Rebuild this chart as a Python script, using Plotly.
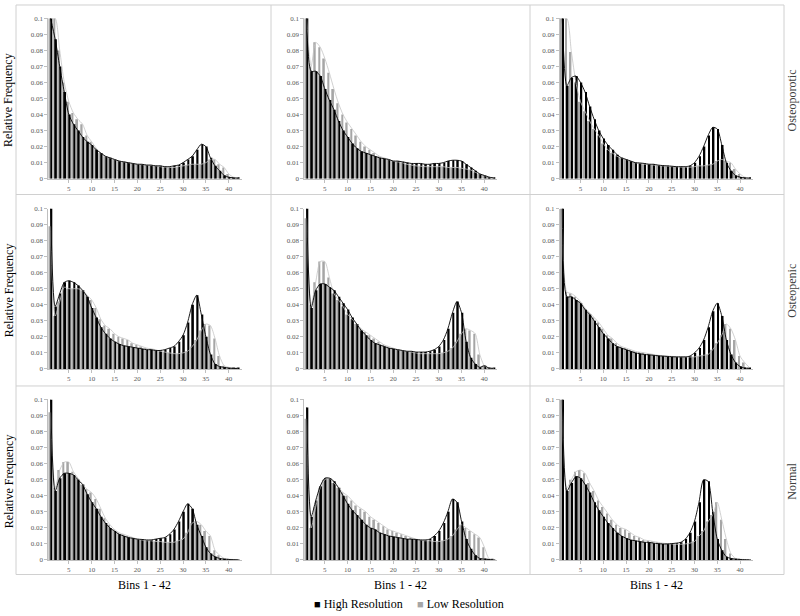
import plotly.graph_objects as go

bins = list(range(1, 43))
x_tick_vals = [5, 10, 15, 20, 25, 30, 35, 40]
row_labels = ["Osteoporotic", "Osteopenic", "Normal"]
x_title = "Bins 1 - 42"
y_title = "Relative Frequency"
series_names = ["High Resolution", "Low Resolution"]

# ---- Osteoporotic row ----
high_osteoporotic_1 = [0.1, 0.087, 0.070, 0.054, 0.040, 0.034, 0.030, 0.026, 0.023, 0.021,
                       0.018, 0.016, 0.014, 0.013, 0.012, 0.011, 0.0105, 0.010, 0.0095, 0.009,
                       0.009, 0.0085, 0.0085, 0.008, 0.008, 0.0075, 0.0075, 0.008, 0.0085, 0.010,
                       0.012, 0.014, 0.018, 0.0215, 0.020, 0.013, 0.008, 0.005, 0.002, 0.001,
                       0.0005, 0.0003]
low_osteoporotic_1 = [0.1, 0.1, 0.080, 0.060, 0.048, 0.041, 0.037, 0.034, 0.027, 0.023,
                      0.019, 0.016, 0.014, 0.013, 0.012, 0.011, 0.0105, 0.010, 0.0095, 0.009,
                      0.0088, 0.0085, 0.0082, 0.008, 0.0075, 0.0072, 0.007, 0.007, 0.0075, 0.008,
                      0.0085, 0.009, 0.009, 0.009, 0.010, 0.012, 0.012, 0.009, 0.007, 0.003,
                      0.001, 0.0005]
high_osteoporotic_2 = [0.1, 0.067, 0.067, 0.064, 0.056, 0.049, 0.043, 0.036, 0.030, 0.026,
                       0.022, 0.019, 0.017, 0.016, 0.015, 0.014, 0.013, 0.0125, 0.012, 0.011,
                       0.011, 0.0105, 0.010, 0.0095, 0.0095, 0.0095, 0.009, 0.009, 0.0095, 0.0095,
                       0.010, 0.011, 0.0115, 0.0115, 0.011, 0.009, 0.007, 0.005, 0.003, 0.002,
                       0.001, 0.0005]
low_osteoporotic_2 = [0.1, 0.070, 0.085, 0.082, 0.075, 0.066, 0.056, 0.047, 0.040, 0.035,
                      0.031, 0.027, 0.023, 0.020, 0.018, 0.016, 0.014, 0.013, 0.012, 0.011,
                      0.0105, 0.010, 0.009, 0.0085, 0.008, 0.0078, 0.0075, 0.0075, 0.0075, 0.0075,
                      0.0075, 0.007, 0.007, 0.007, 0.0065, 0.006, 0.0055, 0.004, 0.003, 0.002,
                      0.001, 0.0005]
high_osteoporotic_3 = [0.1, 0.058, 0.063, 0.064, 0.060, 0.054, 0.045, 0.037, 0.030, 0.025,
                       0.021, 0.018, 0.015, 0.013, 0.012, 0.011, 0.010, 0.0098, 0.0095, 0.009,
                       0.009, 0.0085, 0.0082, 0.008, 0.0078, 0.0075, 0.0075, 0.0075, 0.008, 0.010,
                       0.014, 0.020, 0.027, 0.032, 0.031, 0.021, 0.010, 0.005, 0.002, 0.001,
                       0.0005, 0.0003]
low_osteoporotic_3 = [0.1, 0.1, 0.079, 0.060, 0.048, 0.042, 0.036, 0.031, 0.027, 0.022,
                      0.018, 0.016, 0.014, 0.013, 0.012, 0.011, 0.010, 0.0095, 0.009, 0.009,
                      0.0085, 0.0082, 0.008, 0.0078, 0.0075, 0.0075, 0.0072, 0.0072, 0.0072, 0.0075,
                      0.008, 0.008, 0.0085, 0.009, 0.011, 0.012, 0.011, 0.010, 0.006, 0.003,
                      0.001, 0.0005]

# ---- Osteopenic row ----
high_osteopenic_1 = [0.1, 0.039, 0.047, 0.054, 0.055, 0.054, 0.052, 0.049, 0.045, 0.038,
                     0.032, 0.026, 0.022, 0.019, 0.017, 0.0155, 0.0145, 0.014, 0.0135, 0.013,
                     0.0125, 0.012, 0.012, 0.0115, 0.0115, 0.012, 0.013, 0.014, 0.017, 0.021,
                     0.029, 0.040, 0.046, 0.034, 0.020, 0.009, 0.003, 0.0015, 0.001, 0.0005,
                     0.0003, 0.0002]
low_osteopenic_1 = [0.089, 0.033, 0.042, 0.051, 0.050, 0.050, 0.050, 0.049, 0.046, 0.043,
                    0.038, 0.031, 0.027, 0.025, 0.022, 0.020, 0.019, 0.018, 0.016, 0.015,
                    0.014, 0.013, 0.0125, 0.012, 0.011, 0.0105, 0.010, 0.0095, 0.0095, 0.010,
                    0.011, 0.014, 0.018, 0.024, 0.028, 0.027, 0.019, 0.008, 0.002, 0.001,
                    0.0005, 0.0003]
high_osteopenic_2 = [0.1, 0.038, 0.049, 0.053, 0.053, 0.051, 0.049, 0.045, 0.041, 0.037,
                     0.032, 0.028, 0.024, 0.021, 0.018, 0.016, 0.015, 0.014, 0.013, 0.0125,
                     0.012, 0.0115, 0.011, 0.011, 0.0105, 0.0105, 0.0105, 0.011, 0.012, 0.014,
                     0.018, 0.025, 0.035, 0.042, 0.035, 0.017, 0.007, 0.003, 0.001, 0.002,
                     0.0005, 0.0003]
low_osteopenic_2 = [0.094, 0.040, 0.054, 0.067, 0.067, 0.057, 0.047, 0.043, 0.039, 0.034,
                    0.031, 0.028, 0.025, 0.023, 0.021, 0.019, 0.017, 0.015, 0.014, 0.013,
                    0.012, 0.0115, 0.011, 0.0105, 0.010, 0.0095, 0.0095, 0.0095, 0.0095, 0.0095,
                    0.010, 0.011, 0.013, 0.017, 0.022, 0.025, 0.024, 0.022, 0.009, 0.002,
                    0.0005, 0.0003]
high_osteopenic_3 = [0.1, 0.045, 0.045, 0.043, 0.041, 0.037, 0.034, 0.030, 0.026, 0.022,
                     0.019, 0.016, 0.014, 0.013, 0.012, 0.011, 0.010, 0.0095, 0.009, 0.0088,
                     0.0085, 0.0082, 0.008, 0.0078, 0.0076, 0.0075, 0.0075, 0.0075, 0.008, 0.010,
                     0.013, 0.018, 0.026, 0.036, 0.041, 0.033, 0.018, 0.009, 0.004, 0.0015,
                     0.0005, 0.0003]
low_osteopenic_3 = [0.1, 0.048, 0.047, 0.045, 0.042, 0.038, 0.035, 0.032, 0.029, 0.025,
                    0.021, 0.019, 0.016, 0.014, 0.013, 0.012, 0.011, 0.0105, 0.010, 0.0095,
                    0.009, 0.0085, 0.0082, 0.008, 0.0078, 0.0076, 0.0075, 0.0075, 0.0075, 0.0075,
                    0.008, 0.0085, 0.009, 0.012, 0.016, 0.021, 0.028, 0.025, 0.018, 0.008,
                    0.004, 0.001]

# ---- Normal row ----
high_normal_1 = [0.1, 0.043, 0.051, 0.054, 0.054, 0.053, 0.050, 0.047, 0.041, 0.036,
                 0.032, 0.027, 0.023, 0.020, 0.018, 0.016, 0.015, 0.014, 0.0135, 0.013,
                 0.0128, 0.0125, 0.0125, 0.013, 0.0135, 0.014, 0.016, 0.019, 0.024, 0.030,
                 0.035, 0.032, 0.022, 0.015, 0.008, 0.004, 0.002, 0.001, 0.0005, 0.0003,
                 0.0002, 0.0001]
low_normal_1 = [0.092, 0.045, 0.056, 0.061, 0.061, 0.055, 0.051, 0.047, 0.044, 0.042,
                0.038, 0.032, 0.026, 0.022, 0.019, 0.017, 0.016, 0.015, 0.014, 0.013,
                0.0125, 0.012, 0.012, 0.0115, 0.0115, 0.011, 0.011, 0.011, 0.012, 0.013,
                0.017, 0.023, 0.024, 0.022, 0.018, 0.015, 0.006, 0.003, 0.001, 0.0005,
                0.0003, 0.0002]
high_normal_2 = [0.095, 0.027, 0.037, 0.046, 0.051, 0.051, 0.049, 0.045, 0.040, 0.035,
                 0.031, 0.028, 0.025, 0.022, 0.020, 0.019, 0.017, 0.016, 0.015, 0.0145,
                 0.014, 0.0135, 0.013, 0.013, 0.0128, 0.0125, 0.0125, 0.013, 0.015, 0.018,
                 0.023, 0.030, 0.038, 0.036, 0.024, 0.013, 0.007, 0.003, 0.001, 0.0005,
                 0.0003, 0.0002]
low_normal_2 = [0.088, 0.020, 0.033, 0.045, 0.050, 0.051, 0.048, 0.045, 0.042, 0.040,
                0.037, 0.034, 0.032, 0.030, 0.027, 0.025, 0.023, 0.021, 0.019, 0.018,
                0.017, 0.016, 0.015, 0.014, 0.013, 0.0125, 0.012, 0.012, 0.0115, 0.0115,
                0.012, 0.013, 0.015, 0.019, 0.022, 0.020, 0.018, 0.016, 0.014, 0.008,
                0.001, 0.0005]
high_normal_3 = [0.1, 0.043, 0.048, 0.052, 0.051, 0.047, 0.042, 0.036, 0.031, 0.027,
                 0.023, 0.020, 0.017, 0.015, 0.0135, 0.0125, 0.012, 0.0115, 0.011, 0.011,
                 0.0105, 0.0102, 0.010, 0.010, 0.0102, 0.0105, 0.011, 0.013, 0.017, 0.024,
                 0.036, 0.050, 0.049, 0.030, 0.013, 0.006, 0.002, 0.001, 0.0005, 0.0003,
                 0.0002, 0.0001]
low_normal_3 = [0.1, 0.045, 0.050, 0.055, 0.056, 0.054, 0.048, 0.043, 0.037, 0.033,
                0.029, 0.025, 0.022, 0.020, 0.019, 0.017, 0.015, 0.014, 0.0125, 0.012,
                0.0115, 0.011, 0.0105, 0.0102, 0.010, 0.0098, 0.0098, 0.010, 0.0105, 0.0115,
                0.015, 0.018, 0.024, 0.028, 0.036, 0.025, 0.013, 0.004, 0.001, 0.0005,
                0.0003, 0.0002]

panels = [
    [(high_osteoporotic_1, low_osteoporotic_1), (high_osteoporotic_2, low_osteoporotic_2), (high_osteoporotic_3, low_osteoporotic_3)],
    [(high_osteopenic_1, low_osteopenic_1), (high_osteopenic_2, low_osteopenic_2), (high_osteopenic_3, low_osteopenic_3)],
    [(high_normal_1, low_normal_1), (high_normal_2, low_normal_2), (high_normal_3, low_normal_3)],
]

W, H = 800, 616
FONT = "Liberation Serif, Times New Roman, serif"
BLACK = "#000000"
GRAY = "#a6a6a6"
GRAY_LINE = "#c4c4c4"
AXIS = "#bfbfbf"
TICKC = "#595959"

col_px = [(48.3, 241.5), (304.3, 497.1), (560.0, 752.8)]
row_px = [(14.5, 177.0), (207.3, 369.7), (400.7, 563.3)]

fig = go.Figure()
layout_axes = {}
for r in range(3):
    for c in range(3):
        k = r * 3 + c + 1
        sfx = "" if k == 1 else str(k)
        high, low = panels[r][c]
        xa, ya = "x" + sfx, "y" + sfx
        fig.add_trace(go.Bar(x=bins, y=low, name=series_names[1], marker_color=GRAY,
                             marker_line_width=0, xaxis=xa, yaxis=ya, showlegend=False))
        fig.add_trace(go.Bar(x=bins, y=high, name=series_names[0], marker_color=BLACK,
                             marker_line_width=0, xaxis=xa, yaxis=ya, showlegend=False))
        fig.add_trace(go.Scatter(x=bins, y=low, mode="lines", xaxis=xa, yaxis=ya,
                                 line=dict(color=GRAY_LINE, width=0.8, shape="spline", smoothing=0.7),
                                 showlegend=False, hoverinfo="skip"))
        fig.add_trace(go.Scatter(x=bins, y=high, mode="lines", xaxis=xa, yaxis=ya,
                                 line=dict(color=BLACK, width=0.9, shape="spline", smoothing=0.7),
                                 showlegend=False, hoverinfo="skip"))
        x0, x1 = col_px[c]
        y0, y1 = row_px[r]
        layout_axes["xaxis" + sfx] = dict(
            domain=[x0 / W, x1 / W], anchor=ya, range=[0.5, 42.8],
            tickvals=x_tick_vals, ticks="outside", ticklen=3, tickcolor=AXIS,
            showline=True, linecolor=AXIS, linewidth=1, showgrid=False, zeroline=False,
            tickfont=dict(family=FONT, size=7, color=TICKC), fixedrange=True)
        layout_axes["yaxis" + sfx] = dict(
            domain=[1 - y1 / H, 1 - y0 / H], anchor=xa, range=[0, 0.1], dtick=0.01,
            ticks="outside", ticklen=3, tickcolor=AXIS, showline=True, linecolor=AXIS,
            linewidth=1, showgrid=False, zeroline=False,
            tickfont=dict(family=FONT, size=7, color=TICKC), fixedrange=True)

annotations = []
for r in range(3):
    yc = 1 - ((row_px[r][0] + row_px[r][1]) / 2 + 2) / H
    annotations.append(dict(text=y_title, x=8.5 / W, y=yc, xref="paper", yref="paper",
                            textangle=-90, showarrow=False, xanchor="center", yanchor="middle",
                            font=dict(family=FONT, size=12, color="#000000")))
    annotations.append(dict(text=row_labels[r], x=792 / W, y=yc, xref="paper", yref="paper",
                            textangle=-90, showarrow=False, xanchor="center", yanchor="middle",
                            font=dict(family=FONT, size=12, color="#404040")))
for c in range(3):
    xc = (col_px[c][0] + col_px[c][1]) / 2 / W
    annotations.append(dict(text=x_title, x=xc, y=1 - 589 / H, xref="paper", yref="paper",
                            showarrow=False, xanchor="center", yanchor="middle",
                            font=dict(family=FONT, size=12, color="#000000")))

# legend drawn as two text items with square glyphs
legend_items = [
    ("<span style='font-size:11px'>■</span> " + series_names[0], 312),
    ("<span style='font-size:11px;color:" + GRAY + "'>■</span> " + series_names[1], 415),
]
for txt, xl in legend_items:
    annotations.append(dict(text=txt, x=xl / W, y=1 - 608 / H, xref="paper", yref="paper",
                            showarrow=False, xanchor="left", yanchor="middle",
                            font=dict(family=FONT, size=12, color="#000000")))

shapes = []
LINEC = "#d0d0d0"
for xv in [16, 271, 530, 784]:
    shapes.append(dict(type="line", xref="paper", yref="paper", x0=xv / W, x1=xv / W,
                       y0=1 - 1 / H, y1=1 - 578 / H, line=dict(color=LINEC, width=1)))
for yv in [1, 193, 387, 578]:
    shapes.append(dict(type="line", xref="paper", yref="paper", x0=16 / W, x1=784 / W,
                       y0=1 - yv / H, y1=1 - yv / H, line=dict(color=LINEC, width=1)))

fig.update_layout(
    width=W, height=H, margin=dict(l=0, r=0, t=0, b=0),
    paper_bgcolor="white", plot_bgcolor="white",
    barmode="group", bargap=0.25, bargroupgap=0,
    showlegend=False,
    annotations=annotations, shapes=shapes,
    **layout_axes,
)

fig.write_html("out.html", config={"displayModeBar": False},
               post_script="document.body.style.margin='0';document.body.style.overflow='hidden';")
